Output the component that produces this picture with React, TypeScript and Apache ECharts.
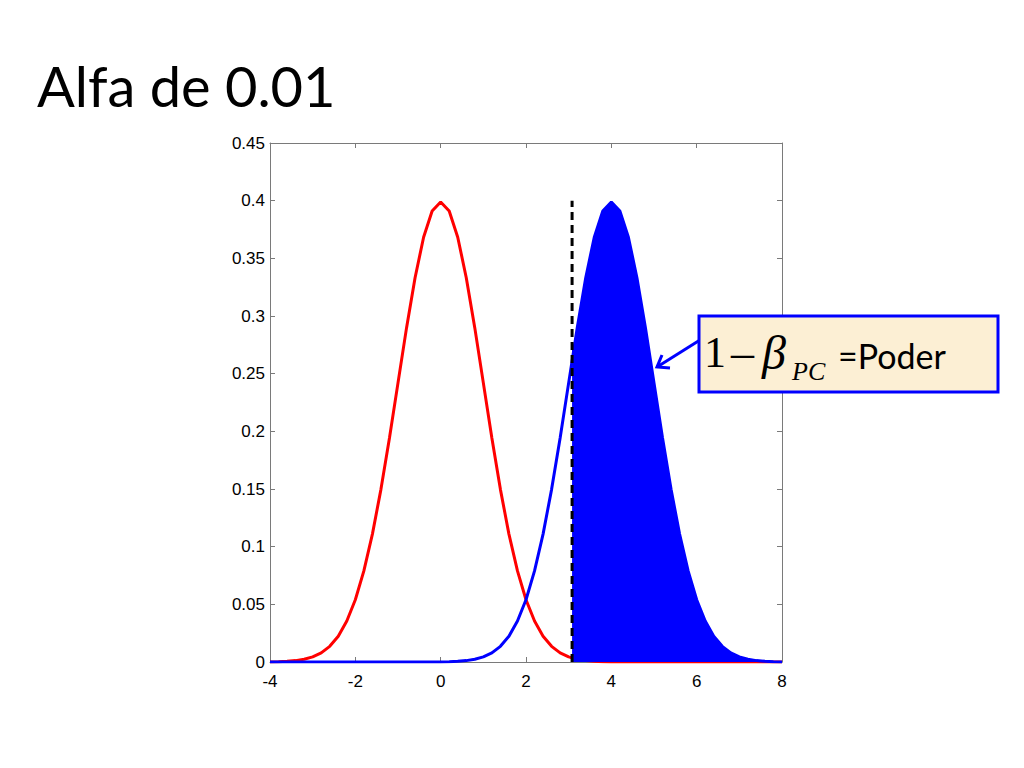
import React, { useEffect, useRef } from "react";
import * as echarts from "echarts";

const xs = [
  -4, -3.8, -3.6, -3.4, -3.2, -3, -2.8, -2.6, -2.4, -2.2, -2, -1.8, -1.6, -1.4, -1.2, -1, -0.8, -0.6, -0.4, -0.2,
  0, 0.2, 0.4, 0.6, 0.8, 1, 1.2, 1.4, 1.6, 1.8, 2, 2.2, 2.4, 2.6, 2.8, 3, 3.2, 3.4, 3.6, 3.8,
  4, 4.2, 4.4, 4.6, 4.8, 5, 5.2, 5.4, 5.6, 5.8, 6, 6.2, 6.4, 6.6, 6.8, 7, 7.2, 7.4, 7.6, 7.8, 8,
];

const nullDensity = [
  0.0001, 0.0003, 0.0006, 0.0012, 0.0024, 0.0044, 0.0079, 0.0136, 0.0224, 0.0355,
  0.054, 0.079, 0.1109, 0.1497, 0.1942, 0.242, 0.2897, 0.3332, 0.3683, 0.391,
  0.3989, 0.391, 0.3683, 0.3332, 0.2897, 0.242, 0.1942, 0.1497, 0.1109, 0.079,
  0.054, 0.0355, 0.0224, 0.0136, 0.0079, 0.0044, 0.0024, 0.0012, 0.0006, 0.0003,
  0.0001, 0, 0, 0, 0, 0, 0, 0, 0, 0,
  0, 0, 0, 0, 0, 0, 0, 0, 0, 0, 0,
];

const altDensity = [
  0, 0, 0, 0, 0, 0, 0, 0, 0, 0,
  0, 0, 0, 0, 0, 0, 0, 0, 0, 0,
  0.0001, 0.0003, 0.0006, 0.0012, 0.0024, 0.0044, 0.0079, 0.0136, 0.0224, 0.0355,
  0.054, 0.079, 0.1109, 0.1497, 0.1942, 0.242, 0.2897, 0.3332, 0.3683, 0.391,
  0.3989, 0.391, 0.3683, 0.3332, 0.2897, 0.242, 0.1942, 0.1497, 0.1109, 0.079,
  0.054, 0.0355, 0.0224, 0.0136, 0.0079, 0.0044, 0.0024, 0.0012, 0.0006, 0.0003, 0.0001,
];

const cutoff = 3.08;
const cutoffDensity = 0.27;
const cutoffLineTop = 0.4;

const yTicks = [0, 0.05, 0.1, 0.15, 0.2, 0.25, 0.3, 0.35, 0.4, 0.45];
const xTicks = [-4, -2, 0, 2, 4, 6, 8];

export default function App() {
  const ref = useRef<HTMLDivElement>(null);
  useEffect(() => {
    if (!ref.current) return;
    const chart = echarts.init(ref.current, undefined, { renderer: "svg" });
    const redData = xs.map((x, i) => [x, nullDensity[i]]);
    const blueData = xs.map((x, i) => [x, altDensity[i]]);
    const fillData: number[][] = [[cutoff, cutoffDensity]];
    xs.forEach((x, i) => {
      if (x > cutoff) fillData.push([x, altDensity[i]]);
    });
    const frameColor = "#7a7a7a";
    const labelFont = { color: "#000", fontSize: 17, fontFamily: "Liberation Sans, Arial, sans-serif" };
    const arrowTip = [657, 367];
    const arrowStart = [700, 340];
    const axisCommon = {
      type: "value",
      axisLine: { show: true, onZero: false, lineStyle: { color: frameColor, width: 1 } },
      axisTick: { show: true, inside: true, length: 5, lineStyle: { color: frameColor } },
      splitLine: { show: false },
    };
    chart.setOption({
      animation: false,
      backgroundColor: "#fff",
      grid: { left: 270, right: 242, top: 143, bottom: 106, containLabel: false },
      xAxis: [
        {
          ...axisCommon,
          min: xTicks[0],
          max: xTicks[xTicks.length - 1],
          interval: 2,
          axisLabel: { ...labelFont, margin: 11 },
        },
        {
          ...axisCommon,
          position: "top",
          min: xTicks[0],
          max: xTicks[xTicks.length - 1],
          interval: 2,
          axisLabel: { show: false },
        },
      ],
      yAxis: [
        {
          ...axisCommon,
          min: yTicks[0],
          max: yTicks[yTicks.length - 1],
          interval: 0.05,
          axisLabel: { ...labelFont, margin: 5 },
        },
        {
          ...axisCommon,
          position: "right",
          min: yTicks[0],
          max: yTicks[yTicks.length - 1],
          interval: 0.05,
          axisLabel: { show: false },
        },
      ],
      series: [
        {
          type: "line",
          data: redData,
          showSymbol: false,
          lineStyle: { color: "#ff0000", width: 3 },
          itemStyle: { color: "#ff0000" },
          z: 2,
        },
        {
          type: "line",
          data: blueData,
          showSymbol: false,
          lineStyle: { color: "#0000ff", width: 3 },
          itemStyle: { color: "#0000ff" },
          z: 3,
        },
        {
          type: "line",
          data: fillData,
          showSymbol: false,
          lineStyle: { width: 0, color: "#0000ff" },
          areaStyle: { color: "#0000ff", opacity: 1 },
          z: 4,
        },
        {
          type: "line",
          data: [
            [cutoff, 0],
            [cutoff, cutoffLineTop],
          ],
          showSymbol: false,
          lineStyle: { color: "#000", width: 3, type: [8, 5] },
          z: 5,
        },
      ],
      graphic: [
        {
          type: "text",
          x: 37,
          y: 57,
          style: {
            text: "Alfa de 0.01",
            fontSize: 56,
            fontFamily: "Lato, sans-serif",
            fill: "#000",
          },
        },
        {
          type: "rect",
          shape: { x: 699, y: 316, width: 299, height: 76 },
          style: { fill: "#fcefd4", stroke: "#0000ff", lineWidth: 3 },
          z: 10,
        },
        {
          type: "text",
          x: 704,
          y: 330,
          z: 11,
          style: { text: "1", fontSize: 44, fontFamily: "Liberation Serif, serif", fill: "#000" },
        },
        {
          type: "text",
          x: 731,
          y: 329,
          z: 11,
          style: { text: "–", fontSize: 46, fontFamily: "Liberation Serif, serif", fill: "#000" },
        },
        {
          type: "text",
          x: 762,
          y: 328,
          z: 11,
          style: {
            text: "β",
            fontSize: 48,
            fontStyle: "italic",
            fontFamily: "Liberation Serif, serif",
            fill: "#000",
          },
        },
        {
          type: "text",
          x: 792,
          y: 358,
          z: 11,
          style: {
            text: "PC",
            fontSize: 26,
            fontStyle: "italic",
            fontFamily: "Liberation Serif, serif",
            fill: "#000",
          },
        },
        {
          type: "text",
          x: 838,
          y: 338,
          z: 11,
          style: { text: "=Poder", fontSize: 34, fontFamily: "Lato, sans-serif", fill: "#000" },
        },
        {
          type: "line",
          shape: { x1: arrowStart[0], y1: arrowStart[1], x2: arrowTip[0], y2: arrowTip[1] },
          style: { stroke: "#0000ff", lineWidth: 3 },
          z: 9,
        },
        {
          type: "polyline",
          shape: {
            points: [
              [arrowTip[0] + 5, arrowTip[1] - 12],
              arrowTip,
              [arrowTip[0] + 13, arrowTip[1] + 1],
            ],
          },
          style: { stroke: "#0000ff", lineWidth: 3, fill: "none" },
          z: 9,
        },
      ],
    });
    return () => chart.dispose();
  }, []);
  return (
    <div
      ref={ref}
      style={{ position: "absolute", left: 0, top: 0, width: 1024, height: 768 }}
    />
  );
}
